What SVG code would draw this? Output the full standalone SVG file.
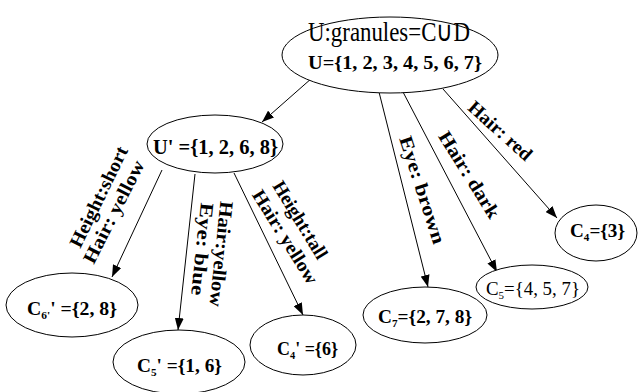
<svg xmlns="http://www.w3.org/2000/svg" width="638" height="392" viewBox="0 0 638 392">
<style>
text{font-family:"Liberation Serif","Times New Roman",serif;fill:#000}
.b{font-weight:bold}
.lbl{font-weight:bold;font-size:19px;text-anchor:middle}
.n{fill:#fff;stroke:#000;stroke-width:1}
.c line{stroke:#000;stroke-width:1}
</style>
<defs>
<marker id="ah" markerUnits="userSpaceOnUse" markerWidth="12" markerHeight="9" refX="12" refY="4.5" orient="auto">
<path d="M0,0 L12,4.5 L0,9 z" fill="#000"/>
</marker>
</defs>
<rect width="638" height="392" fill="#fff"/>
<g id="connectors" class="c">
<line x1="312" y1="78" x2="262" y2="122" marker-end="url(#ah)"/>
<line x1="162" y1="170" x2="112" y2="277" marker-end="url(#ah)"/>
<line x1="195" y1="174" x2="178" y2="330" marker-end="url(#ah)"/>
<line x1="234" y1="173" x2="303" y2="315" marker-end="url(#ah)"/>
<line x1="379" y1="92" x2="428" y2="287" marker-end="url(#ah)"/>
<line x1="403" y1="92" x2="497" y2="272" marker-end="url(#ah)"/>
<line x1="443" y1="89" x2="557" y2="218" marker-end="url(#ah)"/>
</g>
<g id="labels">
<text class="lbl" transform="translate(500,131) rotate(42)" y="6" textLength="79" lengthAdjust="spacingAndGlyphs">Hair: red</text>
<text class="lbl" transform="translate(469,175) rotate(58)" y="6" textLength="99" lengthAdjust="spacingAndGlyphs">Hair: dark</text>
<text class="lbl" transform="translate(422,190) rotate(72)" y="6" textLength="112" lengthAdjust="spacingAndGlyphs">Eye: brown</text>
<text class="lbl" transform="translate(300,220) rotate(58.5)" y="6" textLength="88" lengthAdjust="spacingAndGlyphs">Height:tall</text>
<text class="lbl" transform="translate(285,237) rotate(58)" y="6" textLength="107" lengthAdjust="spacingAndGlyphs">Hair: yellow</text>
<text class="lbl" transform="translate(221,254) rotate(96)" y="6" textLength="106" lengthAdjust="spacingAndGlyphs">Hair:yellow</text>
<text class="lbl" transform="translate(202,249) rotate(96)" y="6" textLength="93" lengthAdjust="spacingAndGlyphs">Eye: blue</text>
<text class="lbl" transform="translate(99,197) rotate(-64)" y="6" textLength="110" lengthAdjust="spacingAndGlyphs">Height:short</text>
<text class="lbl" transform="translate(114,212) rotate(-63)" y="6" textLength="113" lengthAdjust="spacingAndGlyphs">Hair: yellow</text>
</g>
<g id="root">
<ellipse class="n" cx="390" cy="55" rx="108" ry="38"/>
<text x="308" y="41" font-size="28" textLength="162" lengthAdjust="spacingAndGlyphs">U:granules=C∪D</text>
<text class="b" x="308" y="69" font-size="19" textLength="174" lengthAdjust="spacingAndGlyphs">U={1, 2, 3, 4, 5, 6, 7}</text>
</g>
<g id="uprime">
<ellipse class="n" cx="215" cy="144" rx="68" ry="29"/>
<text class="b" x="153" y="154" font-size="20" textLength="125" lengthAdjust="spacingAndGlyphs">U' ={1, 2, 6, 8}</text>
</g>
<g id="c6p">
<ellipse class="n" cx="72" cy="305" rx="66" ry="32"/>
<text class="b" x="27" y="315" font-size="19" textLength="90" lengthAdjust="spacingAndGlyphs">C<tspan font-size="11" dy="4">6'</tspan><tspan dy="-4">' ={2, 8}</tspan></text>
</g>
<g id="c5p">
<ellipse class="n" cx="179" cy="362" rx="66" ry="32"/>
<text class="b" x="137" y="372" font-size="19" textLength="85" lengthAdjust="spacingAndGlyphs">C<tspan font-size="11" dy="4">5</tspan><tspan dy="-4">' ={1, 6}</tspan></text>
</g>
<g id="c4p">
<ellipse class="n" cx="303" cy="345" rx="53" ry="30"/>
<text class="b" x="277" y="355" font-size="19" textLength="61" lengthAdjust="spacingAndGlyphs">C<tspan font-size="11" dy="4">4</tspan><tspan dy="-4">' ={6}</tspan></text>
</g>
<g id="c7">
<ellipse class="n" cx="425" cy="315" rx="62" ry="28"/>
<text class="b" x="378" y="323" font-size="19" textLength="94" lengthAdjust="spacingAndGlyphs">C<tspan font-size="11" dy="4">7</tspan><tspan dy="-4">={2, 7, 8}</tspan></text>
</g>
<g id="c5">
<ellipse class="n" cx="532" cy="287" rx="56" ry="22"/>
<text x="486" y="295" font-size="19" textLength="94" lengthAdjust="spacingAndGlyphs">C<tspan font-size="11" dy="4">5</tspan><tspan dy="-4">={4, 5, 7}</tspan></text>
</g>
<g id="c4">
<ellipse class="n" cx="596" cy="233" rx="41" ry="28"/>
<text class="b" x="570" y="237" font-size="19" textLength="55" lengthAdjust="spacingAndGlyphs">C<tspan font-size="11" dy="4">4</tspan><tspan dy="-4">={3}</tspan></text>
</g>
</svg>
